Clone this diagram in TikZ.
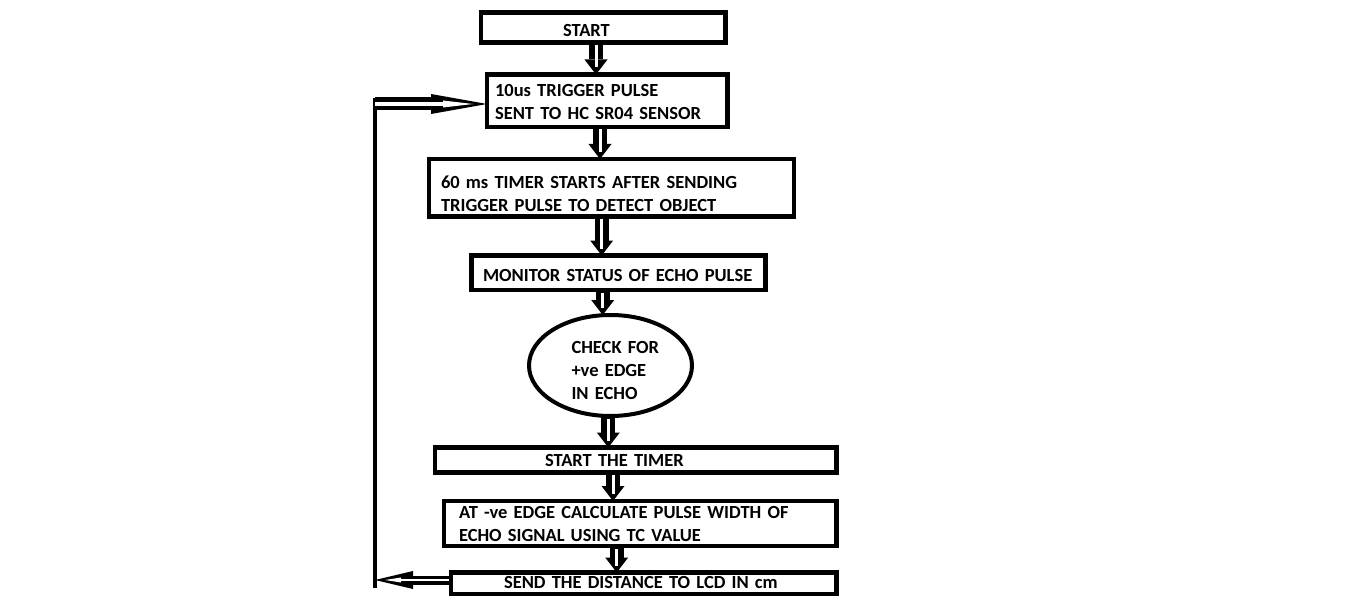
\documentclass[tikz,border=0pt]{standalone}
\usepackage{fontspec}
\setmainfont{Carlito}
\usetikzlibrary{arrows.meta,shapes.geometric}
\begin{document}
\begin{tikzpicture}[x=1pt,y=-1pt,
  txt/.style={font=\bfseries\fontsize{18.5}{23}\selectfont},
  box/.style={draw, line width=4.5pt, rectangle, anchor=north west, align=left,
    inner ysep=0pt, outer sep=0pt, txt},
  vflow/.style={line width=14pt, -{Triangle[length=15pt, width=23pt, line width=0pt]},
    postaction={draw=white, line width=3pt, -, shorten <=2.5pt, shorten >=7pt}},
  topflow/.style={line width=13pt, -{Triangle[length=56pt, width=20pt, line width=0pt]},
    postaction={draw=white, line width=4pt, shorten <=0pt, shorten >=14pt,
      -{Triangle[length=30pt, width=7pt, line width=0pt]}}},
  botflow/.style={line width=9pt, -{Triangle[length=38pt, width=18pt, line width=0pt]},
    postaction={draw=white, line width=2.5pt, shorten <=2.5pt, shorten >=10pt,
      -{Triangle[length=16pt, width=5pt, line width=0pt]}}},
  loopline/.style={line width=4.5pt}
]
\useasboundingbox (0,0) rectangle (1360,607);

\node[box, minimum width=244.5pt, minimum height=30pt, inner xsep=82pt, text width=80.5pt, text height=19pt] (b1) at (481,12.5) {\mbox{START}};
\node[box, minimum width=240.5pt, minimum height=52.5pt, inner xsep=8pt, text width=224.5pt, text height=15pt] (b2) at (487,74.5) {\mbox{10us TRIGGER PULSE}\\\mbox{SENT TO HC SR04 SENSOR}};
\node[box, minimum width=365pt, minimum height=57.5pt, inner xsep=12pt, text width=341pt, text height=24pt] (b3) at (429,159) {\mbox{60 ms TIMER STARTS AFTER SENDING}\\\mbox{TRIGGER PULSE TO DETECT OBJECT}};
\node[box, minimum width=294pt, minimum height=34.5pt, inner xsep=11.5pt, text width=271pt, text height=17pt] (b4) at (471.5,255.5) {\mbox{MONITOR STATUS OF ECHO PULSE}};
\node[ellipse, draw, line width=4pt, minimum width=163pt, minimum height=101pt, inner sep=0pt, outer sep=0pt,
  text width=78pt, text height=23pt, align=left, txt] (e) at (610.5,365.5) {\mbox{CHECK FOR}\\\mbox{+ve EDGE}\\\mbox{IN ECHO}};
\node[box, minimum width=401.5pt, minimum height=25pt, inner xsep=110pt, text width=181.5pt] (b6) at (435,447.5) {\mbox{START THE TIMER}};
\node[box, minimum width=392.5pt, minimum height=45pt, inner xsep=15pt, text width=362.5pt] (b7) at (444,501) {\mbox{AT -ve EDGE CALCULATE PULSE WIDTH OF}\\\mbox{ECHO SIGNAL USING TC VALUE}};
\node[box, minimum width=385.5pt, minimum height=21.5pt, inner xsep=53pt, text width=279.5pt, text depth=2pt] (b8) at (451,572.5) {\mbox{SEND THE DISTANCE TO LCD IN cm}};

\coordinate (x1) at (596,0);
\coordinate (x2) at (600,0);
\coordinate (x3) at (601.7,0);
\coordinate (x4) at (602.7,0);
\coordinate (x5) at (608.3,0);
\coordinate (x6) at (613,0);
\coordinate (x7) at (616.7,0);
\coordinate (lt) at (375,104);
\coordinate (lb) at (375,580);

\draw[vflow] (b1.south -| x1) -- (b2.north -| x1);
\draw[vflow] (b2.south -| x2) -- (b3.north -| x2);
\draw[vflow] (b3.south -| x3) -- (b4.north -| x3);
\draw[vflow] (b4.south -| x4) -- (e.north -| x4);
\draw[vflow] (e.south -| x5) -- (b6.north -| x5);
\draw[vflow] (b6.south -| x6) -- (b7.north -| x6);
\draw[vflow] (b7.south -| x7) -- (b8.north -| x7);

\draw[botflow] (b8.west |- lb) -- (lb);
\draw[loopline, shorten <=-8pt, shorten >=-6pt] (lb) -- (lt);
\draw[topflow] (lt) -- (b2.west |- lt);
\end{tikzpicture}
\end{document}
